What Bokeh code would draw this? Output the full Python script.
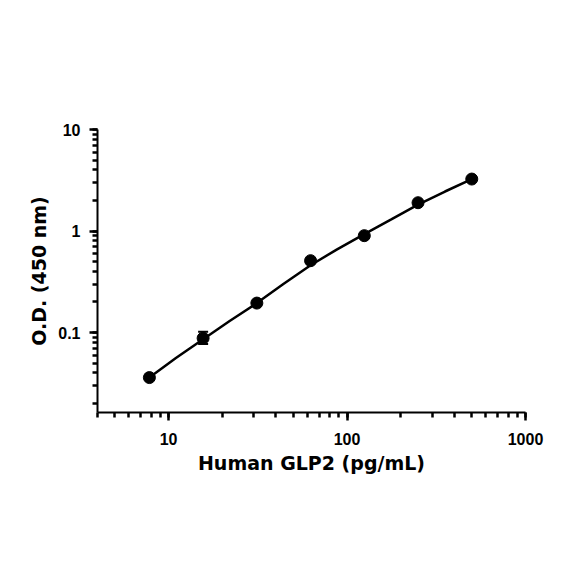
from bokeh.plotting import figure
from bokeh.models import ColumnDataSource, Whisker
from bokeh.embed import file_html
from bokeh.resources import INLINE

# Standards (pg/mL) and O.D. readings
conc = [7.8125, 15.625, 31.25, 62.5, 125, 250, 500]
od = [0.036, 0.088, 0.195, 0.51, 0.90, 1.90, 3.25]
od_lower = [0.035, 0.077, 0.190, 0.50, 0.88, 1.87, 3.20]
od_upper = [0.037, 0.102, 0.200, 0.52, 0.92, 1.93, 3.30]

# Fitted curve
curve_x = [7.8125, 11, 15.625, 22, 31.25, 44, 62.5, 88, 125, 177, 250, 354, 500]
curve_y = [0.036, 0.056, 0.086, 0.13, 0.195, 0.30, 0.46, 0.66, 0.93, 1.30, 1.82, 2.45, 3.25]

p = figure(
    x_axis_type="log", y_axis_type="log",
    x_range=(4.0, 1000), y_range=(0.0163, 10),
    frame_width=428, frame_height=283,
    min_border_left=97, min_border_right=43,
    min_border_top=129, min_border_bottom=156,
    output_backend="svg", toolbar_location=None,
)
p.outline_line_color = None
p.grid.visible = False
p.background_fill_color = "white"

p.line(curve_x, curve_y, line_color="black", line_width=2.5)

src = ColumnDataSource(dict(x=conc, y=od, lo=od_lower, hi=od_upper))
w = Whisker(base="x", lower="lo", upper="hi", source=src,
            line_color="black", line_width=2)
w.upper_head.size = 10
w.lower_head.size = 10
w.upper_head.line_width = 2
w.lower_head.line_width = 2
p.add_layout(w)
p.scatter("x", "y", source=src, size=12, color="black")

for ax in (p.xaxis[0], p.yaxis[0]):
    ax.axis_line_width = 2
    ax.axis_line_color = "black"
    ax.major_tick_line_width = 2.5
    ax.minor_tick_line_width = 2.5
    ax.major_tick_out = 8
    ax.major_tick_in = 0
    ax.minor_tick_out = 5
    ax.minor_tick_in = 0
    ax.major_label_text_font = "Liberation Sans"
    ax.major_label_text_font_style = "bold"
    ax.major_label_text_font_size = "16px"
    ax.major_label_text_color = "black"
    ax.axis_label_text_font = "DejaVu Sans"
    ax.axis_label_text_font_style = "bold"
    ax.axis_label_text_color = "black"

p.xaxis.ticker.desired_num_ticks = 3
p.yaxis.ticker.desired_num_ticks = 3
p.xaxis.major_label_overrides = {10: "10", 100: "100", 1000: "1000"}
p.yaxis.major_label_overrides = {0.1: "0.1", 1: "1", 10: "10"}
p.xaxis.axis_label = "Human GLP2 (pg/mL)"
p.yaxis.axis_label = "O.D. (450 nm)"
p.xaxis.axis_label_text_font_size = "19px"
p.yaxis.axis_label_text_font_size = "19px"
p.xaxis.axis_label_standoff = 4
p.yaxis.axis_label_standoff = 5
p.xaxis.major_label_standoff = 12
p.yaxis.major_label_standoff = 9

open("out.html", "w").write(file_html(p, INLINE))
